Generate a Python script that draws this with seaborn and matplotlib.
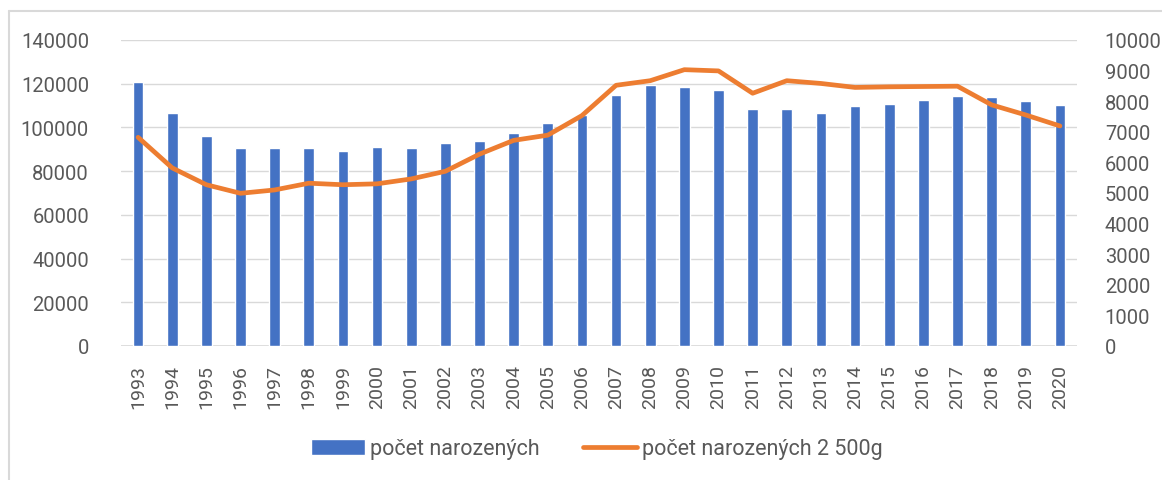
import matplotlib.pyplot as plt
import seaborn as sns
import pandas as pd

# Data
years = list(range(1993, 2021))
births = [121000, 106500, 96200, 90400, 90600, 90500, 89400, 91000, 90600, 92700,
          93700, 97600, 102100, 105800, 114700, 119600, 118300, 117100, 108500, 108500,
          106700, 109800, 110700, 112700, 114400, 114100, 112300, 110200]
low_weight = [6820, 5820, 5270, 4990, 5100, 5320, 5270, 5300, 5460, 5710,
              6270, 6720, 6890, 7530, 8520, 8670, 9030, 8990, 8260, 8670,
              8580, 8450, 8470, 8480, 8490, 7880, 7550, 7190]

df = pd.DataFrame({'rok': [str(y) for y in years], 'births': births, 'low': low_weight})

BLUE = '#4472C4'
ORANGE = '#ED7D31'
GRID = '#D9D9D9'
TEXT = '#595959'

sns.set_theme(style="white")
plt.rcParams['font.family'] = ['Roboto', 'DejaVu Sans']

fig = plt.figure(figsize=(11.62, 4.81), dpi=100)
ax = fig.add_axes([121 / 1162, 1 - 347 / 481, (1077 - 121) / 1162, (347 - 41) / 481])

sns.barplot(data=df, x='rok', y='births', color=BLUE, width=0.31, ax=ax,
            saturation=1, label='počet narozených', zorder=2)
ax.set_ylim(0, 140000)
ax.set_yticks(range(0, 140001, 20000))
ax.set_xlim(-0.5, len(years) - 0.5)
ax.grid(axis='y', color=GRID, lw=1.0, zorder=0)
ax.set_axisbelow(True)
for s in ax.spines.values():
    s.set_visible(False)
ax.axhline(0, color=GRID, lw=1.2, zorder=1)
ax.set_xlabel('')
ax.set_ylabel('')
ax.tick_params(axis='y', length=0, pad=23, labelsize=14.5, labelcolor=TEXT)
ax.tick_params(axis='x', length=0, pad=13, labelsize=14, labelcolor=TEXT, rotation=90)

ax2 = ax.twinx()
sns.lineplot(x=range(len(years)), y=low_weight, color=ORANGE, lw=3.4, ax=ax2,
             label='počet narozených 2 500g', zorder=3)
ax2.set_ylim(0, 10000)
ax2.set_yticks(range(0, 10001, 1000))
for s in ax2.spines.values():
    s.set_visible(False)
ax2.set_ylabel('')
ax2.tick_params(axis='y', length=0, pad=20, labelsize=14.5, labelcolor=TEXT)
ax2.get_legend().remove()

# combined legend at the bottom
h1, l1 = ax.get_legend_handles_labels()
h2, l2 = ax2.get_legend_handles_labels()
if ax.get_legend() is not None:
    ax.get_legend().remove()
fig.legend(h1 + h2, l1 + l2, loc='center', bbox_to_anchor=(597 / 1162, 1 - 450 / 481),
           ncol=2, frameon=False, fontsize=15.5, handlelength=2.5, handleheight=0.7,
           handletextpad=0.25, columnspacing=2.0, labelcolor=TEXT)

# thin chart-area border (left and top)
fig.add_artist(plt.Line2D([9 / 1162, 9 / 1162], [0, 1 - 12 / 481],
                          transform=fig.transFigure, color=GRID, lw=1.5))
fig.add_artist(plt.Line2D([9 / 1162, 1], [1 - 12 / 481, 1 - 12 / 481],
                          transform=fig.transFigure, color=GRID, lw=1.5))

fig.savefig('out.png', dpi=100)
